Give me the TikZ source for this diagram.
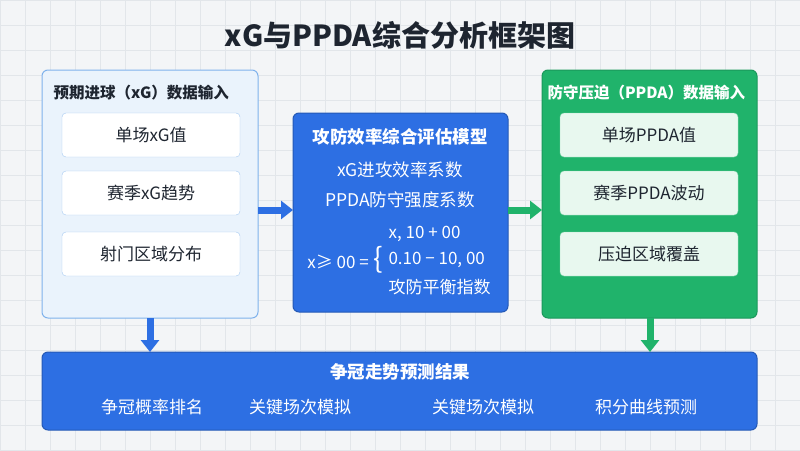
\documentclass[tikz,border=0pt]{standalone}
\usepackage{fontspec}
\setmainfont{Noto Sans CJK SC}
\usetikzlibrary{arrows.meta}
\definecolor{bgc}{HTML}{F3F5F7}
\definecolor{gridc}{HTML}{E2E6EA}
\definecolor{lpanel}{HTML}{EAF3FC}
\definecolor{lborder}{HTML}{7FB2EC}
\definecolor{mblue}{HTML}{2D6FE3}
\definecolor{mgreen}{HTML}{20B36B}
\definecolor{lgreen}{HTML}{E8F8EF}
\definecolor{txt}{HTML}{1E2530}
\tikzset{
 panel/.style={rounded corners=6pt, line width=1pt},
 inbox/.style={draw=lborder!70, fill=white, rounded corners=4pt, minimum width=178pt, minimum height=44pt, font=\fontsize{17}{20}\selectfont, text=txt},
 ginbox/.style={draw=mgreen!50, fill=lgreen, rounded corners=4pt, minimum width=178pt, minimum height=44pt, font=\fontsize{17}{20}\selectfont, text=txt},
 bigarrow/.style={line width=7pt, -{Triangle[length=12pt,width=18pt]}},
 wt/.style={text=white, font=\fontsize{17}{20}\selectfont},
}
\begin{document}
\begin{tikzpicture}[x=1pt,y=-1pt]
\useasboundingbox (0,0) rectangle (800,450);
\fill[bgc] (0,0) rectangle (800,450);
\foreach \i in {0,25,...,800} \draw[gridc,line width=0.5pt] (\i,0) -- (\i,450);
\foreach \j in {0,25,...,450} \draw[gridc,line width=0.5pt] (0,\j) -- (800,\j);
\node[font=\fontsize{29}{32}\selectfont\bfseries, text=txt] (title) at (400,35) {xG与PPDA综合分析框架图};
% left panel
\draw[panel, draw=lborder, fill=lpanel] (42,70) rectangle (258,318);
\node[anchor=west, font=\fontsize{15.5}{18}\selectfont\bfseries, text=txt] (lt) at (50,93) {预期进球（xG）数据输入};
\node[inbox] (l1) at (151,135) {单场xG值};
\node[inbox] (l2) at (151,193) {赛季xG趋势};
\node[inbox] (l3) at (151,254) {射门区域分布};
% center
\draw[panel, draw=mblue!80!black, fill=mblue] (293,113) rectangle (508,312);
\coordinate (cw) at (293,210); \coordinate (ce) at (508,210);
\node[wt, font=\fontsize{17.5}{20}\selectfont\bfseries] (c0) at (400,137) {攻防效率综合评估模型};
\node[wt, font=\fontsize{17.5}{20}\selectfont] (c1) at (400,170) {xG进攻效率系数};
\node[wt, font=\fontsize{17.5}{20}\selectfont] (c2) at (400,200) {PPDA防守强度系数};
\node[wt] (cl) at (338,262) {x≥ 00 =};
\node[wt, font=\fontsize{28}{28}\selectfont] (br) at (378,260) {\{};
\node[wt, anchor=west] (f1) at (385,234) {x, 10 + 00};
\node[wt, anchor=west] (f2) at (385,260) {0.10 − 10, 00};
\node[wt, anchor=west] (f3) at (385,287) {攻防平衡指数};
% right panel
\draw[panel, draw=mgreen!85!black, fill=mgreen] (542,70) rectangle (757,318);
\node[anchor=west, font=\fontsize{15.5}{18}\selectfont\bfseries, text=white] (rt) at (544,93) {防守压迫（PPDA）数据输入};
\node[ginbox] (r1) at (649,135) {单场PPDA值};
\node[ginbox] (r2) at (649,193) {赛季PPDA波动};
\node[ginbox] (r3) at (649,254) {压迫区域覆盖};
% bottom
\draw[panel, draw=mblue!80!black, fill=mblue] (42,352) rectangle (757,430);
\node[wt, font=\fontsize{17.5}{20}\selectfont\bfseries] (b0) at (400,372) {争冠走势预测结果};
\node[wt] (b1) at (152,407) {争冠概率排名};
\node[wt] (b2) at (300,407) {关键场次模拟};
\node[wt] (b3) at (483,407) {关键场次模拟};
\node[wt] (b4) at (646,407) {积分曲线预测};
% arrows
\coordinate (la) at (258,210); \coordinate (ra) at (542,210);
\draw[bigarrow, mblue] (la) -- (cw);
\draw[bigarrow, mgreen] (ce) -- (ra);
\coordinate (ld1) at (150,318); \coordinate (ld2) at (150,352);
\coordinate (rd1) at (650,318); \coordinate (rd2) at (650,352);
\draw[bigarrow, mblue] (ld1) -- (ld2);
\draw[bigarrow, mgreen] (rd1) -- (rd2);
\end{tikzpicture}
\end{document}
